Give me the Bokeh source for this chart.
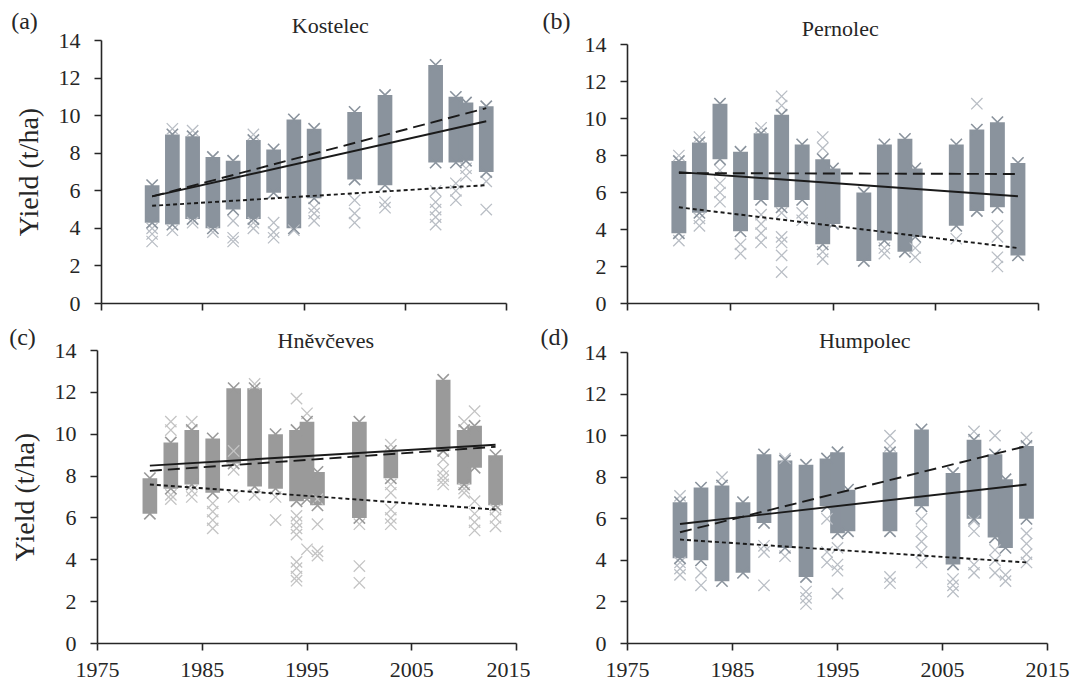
from bokeh.plotting import figure
from bokeh.layouts import column, row
from bokeh.models import Label, FixedTicker, Range1d
from bokeh.embed import file_html
from bokeh.resources import INLINE

# ---------------- data ----------------
XTICKS = [1975, 1985, 1995, 2005, 2015]
YTICKS = [0, 2, 4, 6, 8, 10, 12, 14]
TREND_YEARS = [1980, 2013]

# (a) Kostelec
YEARS_A = [1980, 1982, 1984, 1986, 1988, 1990, 1992, 1994, 1996, 2000, 2003, 2008, 2010, 2011, 2013]
LO_A = [4.3, 4.2, 4.5, 4.0, 5.0, 4.5, 5.9, 4.0, 5.6, 6.6, 6.3, 7.5, 7.5, 7.6, 7.0]
HI_A = [6.3, 9.0, 8.9, 7.8, 7.6, 8.7, 8.2, 9.8, 9.3, 10.2, 11.1, 12.7, 11.0, 10.7, 10.5]
OUT_A = [[3.3, 3.7, 4.0], [9.3, 3.9], [9.2, 4.3], [3.8], [3.3, 3.5, 4.4], [9.0, 4.0, 4.3],
         [3.5, 3.8, 4.3], [3.9], [4.4, 4.8, 5.1], [4.3, 4.8, 5.5], [5.1, 5.4],
         [4.2, 4.6, 5.0, 5.4, 6.0], [5.5, 6.0, 6.4], [6.8, 7.2], [5.0, 6.5]]
SOLID_A = [5.7, 9.7]
DASH_A = [5.7, 10.4]
DOT_A = [5.2, 6.3]

# (b) Pernolec
YEARS_B = [1980, 1982, 1984, 1986, 1988, 1990, 1992, 1994, 1995, 1998, 2000, 2002, 2003, 2007, 2009, 2011, 2013]
LO_B = [3.8, 4.9, 7.8, 3.9, 5.6, 5.2, 5.6, 3.2, 4.3, 2.3, 3.4, 2.8, 3.6, 4.2, 5.0, 5.2, 2.6]
HI_B = [7.7, 8.7, 10.8, 8.2, 9.2, 10.2, 8.6, 7.8, 7.3, 6.0, 8.6, 8.9, 7.3, 8.6, 9.4, 9.8, 7.6]
OUT_B = [[3.4, 8.0], [4.2, 4.6, 9.0], [5.5, 6.0, 6.5, 7.2], [2.7, 3.2], [3.3, 3.8, 4.3, 4.8, 9.5],
         [1.7, 2.6, 3.3, 3.6, 4.9, 10.7, 11.2], [4.5, 4.9], [2.4, 2.8, 8.4, 9.0], [], [], [2.7, 3.0],
         [], [2.5, 3.0], [3.5], [10.8], [2.0, 2.5, 3.6, 4.2], []]
SOLID_B = [7.1, 5.8]
DASH_B = [7.05, 7.0]
DOT_B = [5.2, 3.0]

# (c) Hněvčeves
YEARS_C = [1980, 1982, 1984, 1986, 1988, 1990, 1992, 1994, 1995, 1996, 2000, 2003, 2008, 2010, 2011, 2013]
LO_C = [6.2, 7.4, 7.6, 7.2, 8.6, 7.5, 7.4, 6.8, 6.9, 6.6, 6.0, 7.9, 9.2, 7.6, 8.4, 6.6]
HI_C = [7.9, 9.6, 10.2, 9.8, 12.2, 12.2, 10.0, 10.2, 10.6, 8.2, 10.6, 9.2, 12.6, 10.2, 10.4, 9.0]
OUT_C = [[], [6.9, 7.1, 10.2, 10.6], [7.0, 7.3, 10.6], [5.5, 5.9, 6.3, 6.7], [7.0, 8.3, 9.2],
         [7.1, 12.4], [5.9, 7.0], [3.0, 3.2, 3.6, 3.9, 5.2, 5.5, 5.8, 6.1, 11.7], [4.5, 11.0],
         [4.2, 4.4, 5.7, 6.9], [2.9, 3.7, 5.7], [5.7, 6.0, 6.4, 7.2, 7.6, 9.5],
         [7.6, 7.8, 8.0, 8.3, 8.8], [7.2, 7.4, 10.6], [5.4, 5.8, 6.2, 6.8, 11.1], [5.6, 6.0, 6.4]]
SOLID_C = [8.5, 9.5]
DASH_C = [8.25, 9.4]
DOT_C = [7.6, 6.4]

# (d) Humpolec
YEARS_D = [1980, 1982, 1984, 1986, 1988, 1990, 1992, 1994, 1995, 1996, 2000, 2003, 2006, 2008, 2010, 2011, 2013]
LO_D = [4.1, 4.0, 3.0, 3.4, 5.8, 4.6, 3.2, 6.6, 5.3, 5.4, 5.4, 6.6, 3.8, 6.0, 5.1, 4.6, 6.0]
HI_D = [6.8, 7.5, 7.6, 6.8, 9.1, 8.8, 8.6, 8.9, 9.2, 7.4, 9.2, 10.3, 8.2, 9.8, 9.1, 7.9, 9.5]
OUT_D = [[3.3, 3.6, 3.9, 7.1], [2.8, 3.4], [8.0], [], [2.8, 4.4, 4.7], [4.2, 8.9], [1.9, 2.2, 2.5],
         [3.9, 4.4, 6.0], [2.4, 3.5, 3.8, 4.6], [], [2.9, 3.2, 9.5, 10.0], [3.9, 4.4, 4.9, 5.4, 6.0],
         [2.5, 2.8, 3.1], [3.4, 3.8, 5.4, 5.9, 10.2], [3.4, 4.0, 4.5, 10.0], [3.0, 3.3],
         [3.9, 4.3, 4.8, 5.3, 9.9]]
SOLID_D = [5.75, 7.65]
DASH_D = [5.35, 9.5]
DOT_D = [5.0, 3.9]

# ---------------- style ----------------
FONT = "Liberation Serif"
INK = "#262626"
LINE = "#1a1a1a"
X0, X1, Y0, Y1 = 1975, 2015, 0, 14


def panel(years, lo, hi, outs, solid, dash, dot, title, tag, title_x, *,
          W, H, left, right, top, bottom, dense, light, xlabels, ylabel,
          title_dy, tag_dx, tag_dy, bar_w):
    # the frame covers the whole canvas; the axes sit at fixed data locations
    sx = (right - left) / (X1 - X0)
    sy = (bottom - top) / (Y1 - Y0)
    xr = Range1d(X0 - left / sx, X0 + (W - left) / sx)
    yr = Range1d(Y0 - (H - bottom) / sy, Y1 + top / sy)
    p = figure(width=W, height=H, x_range=xr, y_range=yr, title=None,
               output_backend="svg", toolbar_location=None,
               min_border_left=0, min_border_right=0, min_border_top=0, min_border_bottom=0)
    p.outline_line_color = None
    p.grid.visible = False
    p.background_fill_color = "white"
    p.border_fill_color = "white"

    for ax in (p.xaxis, p.yaxis):
        ax.axis_line_color = INK
        ax.axis_line_width = 1.6
        ax.major_tick_line_color = INK
        ax.major_tick_line_width = 1.6
        ax.major_tick_in = 0
        ax.major_tick_out = 7
        ax.minor_tick_line_color = None
        ax.major_label_text_font = FONT
        ax.major_label_text_font_size = "22px"
        ax.major_label_text_color = INK
    p.xaxis.ticker = FixedTicker(ticks=XTICKS)
    p.yaxis.ticker = FixedTicker(ticks=YTICKS)
    p.xaxis.fixed_location = Y0
    p.yaxis.fixed_location = X0
    p.xaxis.bounds = (X0, X1)
    p.yaxis.bounds = (Y0, Y1)
    p.yaxis.major_label_standoff = 14
    if xlabels:
        p.xaxis.major_label_standoff = 12
    else:
        p.xaxis.major_label_text_font_size = "0px"
        p.xaxis.major_label_standoff = 0
        p.xaxis.major_label_overrides = {t: "" for t in XTICKS}
    if ylabel:
        p.yaxis.axis_label = "Yield (t/ha)"
        p.yaxis.axis_label_text_font = FONT
        p.yaxis.axis_label_text_font_size = "28px"
        p.yaxis.axis_label_text_font_style = "normal"
        p.yaxis.axis_label_text_color = INK
        p.yaxis.axis_label_standoff = 12

    # dense columns of cross markers
    p.vbar(x=years, bottom=lo, top=hi, width=bar_w, fill_color=dense, line_color=None)
    ox = [y for y, vals in zip(years, outs) for _ in vals]
    oy = [v for vals in outs for v in vals]
    p.scatter(ox, oy, marker="x", size=16, line_color=light, line_width=1.3)
    p.scatter(years + years, hi + lo, marker="x", size=16, line_color=dense, line_width=1.6)

    # trend lines
    p.line(TREND_YEARS, solid, line_color=LINE, line_width=1.9)
    p.line(TREND_YEARS, dash, line_color=LINE, line_width=1.9, line_dash="12 6")
    p.line(TREND_YEARS, dot, line_color=LINE, line_width=1.9, line_dash="4 3")

    p.add_layout(Label(x=title_x, y=Y1, y_offset=title_dy, text=title, text_font=FONT,
                       text_font_size="22px", text_color=INK, text_align="center",
                       text_baseline="middle"))
    p.add_layout(Label(x=X0, y=Y1, x_offset=tag_dx, y_offset=tag_dy, text=tag, text_font=FONT,
                       text_font_size="24px", text_color=INK, text_align="center",
                       text_baseline="middle"))
    return p


BLUE_D, BLUE_L = "#8a939d", "#b9bec5"
GREY_D, GREY_L = "#9a9a9a", "#c4c4c4"

pa = panel(YEARS_A, LO_A, HI_A, OUT_A, SOLID_A, DASH_A, DOT_A, "Kostelec", "(a)", 1997.6,
           W=530, H=320, left=101, right=506, top=40, bottom=303, dense=BLUE_D, light=BLUE_L,
           xlabels=False, ylabel=True, title_dy=15, tag_dx=-77, tag_dy=20, bar_w=1.45)
pb = panel(YEARS_B, LO_B, HI_B, OUT_B, SOLID_B, DASH_B, DOT_B, "Pernolec", "(b)", 1995.7,
           W=540, H=320, left=97, right=508, top=44, bottom=303, dense=BLUE_D, light=BLUE_L,
           xlabels=False, ylabel=False, title_dy=16, tag_dx=-71, tag_dy=24, bar_w=1.45)
pc = panel(YEARS_C, LO_C, HI_C, OUT_C, SOLID_C, DASH_C, DOT_C, "Hněvčeves", "(c)", 1996.8,
           W=530, H=363, left=97, right=516, top=30, bottom=323, dense=GREY_D, light=GREY_L,
           xlabels=True, ylabel=True, title_dy=10, tag_dx=-75, tag_dy=14, bar_w=1.4)
pd = panel(YEARS_D, LO_D, HI_D, OUT_D, SOLID_D, DASH_D, DOT_D, "Humpolec", "(d)", 1997.6,
           W=540, H=363, left=97, right=517, top=32, bottom=323, dense=BLUE_D, light=BLUE_L,
           xlabels=True, ylabel=False, title_dy=12, tag_dx=-73, tag_dy=16, bar_w=1.4)

layout = column(row(pa, pb), row(pc, pd))
open("out.html", "w").write(file_html(layout, INLINE))
